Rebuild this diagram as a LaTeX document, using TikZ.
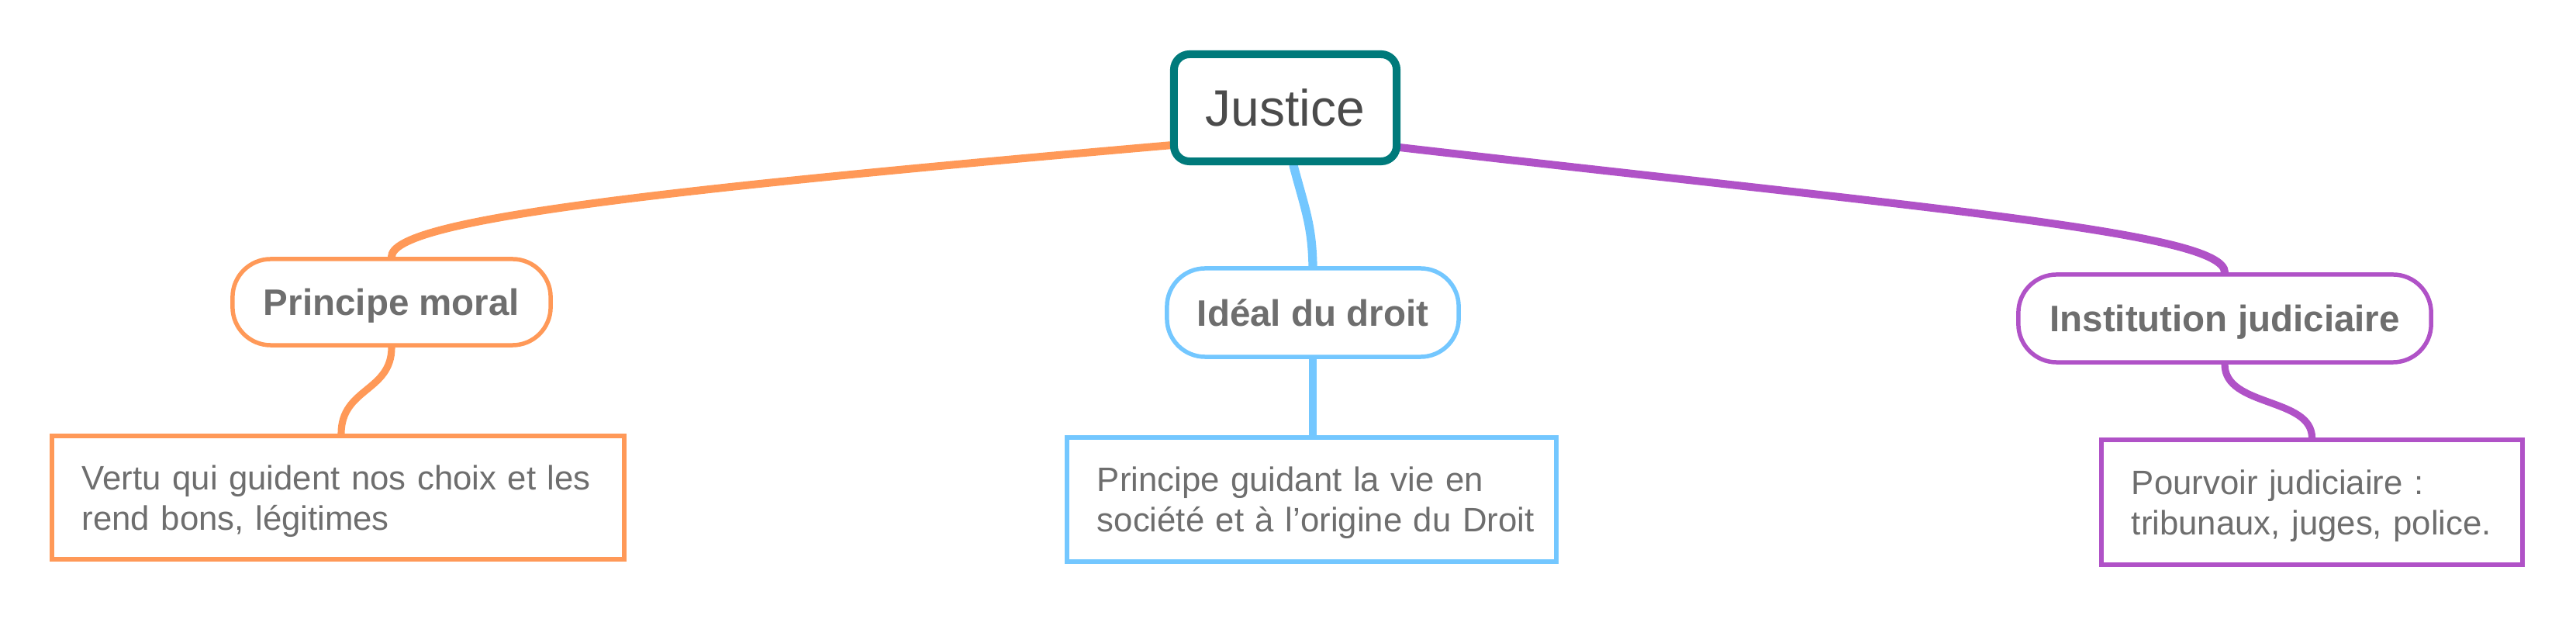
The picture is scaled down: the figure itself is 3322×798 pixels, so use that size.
\documentclass[tikz,border=0pt]{standalone}
\usepackage{fontspec}
\setmainfont{Liberation Sans}
\usetikzlibrary{backgrounds}
\definecolor{tealJ}{RGB}{0,122,123}
\definecolor{orangeB}{RGB}{255,153,88}
\definecolor{blueB}{RGB}{115,199,255}
\definecolor{purpleB}{RGB}{176,82,199}
\definecolor{gtext}{RGB}{110,110,110}
\definecolor{jtext}{RGB}{75,75,75}
\begin{document}
\begin{tikzpicture}[x=0.01cm,y=-0.01cm,
  upconn/.style={line width=2.85pt, line cap=round},
  lowconn/.style={line width=2.6pt, line cap=round},
  topic/.style={draw=tealJ, line width=2.85pt, rounded corners=5.7pt, fill=white,
    minimum width=2.87cm, minimum height=1.38cm, inner sep=0pt, text=jtext,
    font=\fontsize{18.78pt}{22pt}\selectfont, text height=0.47cm, text depth=0pt},
  pill/.style={line width=1.56pt, rounded corners=14pt, fill=white, inner sep=0pt,
    text=gtext, font=\fontsize{13.51pt}{16pt}\selectfont\bfseries,
    text height=0.34cm, text depth=0pt},
  desc/.style={line width=1.56pt, fill=white, inner xsep=0.39cm, inner ysep=0pt,
    align=left, text=gtext, font=\fontsize{12.43pt}{14.8pt}\selectfont,
    text height=0.313cm, text depth=0.52cm}
]
\useasboundingbox (0,0) rectangle (3322,798);

\node[topic] (J) at (1657.5,139) {Justice};

\node[pill, draw=orangeB, minimum width=4.10cm, minimum height=1.11cm] (PM) at (505,389.5) {Principe moral};
\node[pill, draw=blueB, minimum width=3.76cm, minimum height=1.14cm] (ID) at (1693,403) {Idéal du droit};
\node[pill, draw=purpleB, minimum width=5.32cm, minimum height=1.13cm] (IJ) at (2869,410.5) {Institution judiciaire};

\node[desc, draw=orangeB, text width=6.60cm, minimum width=7.38cm, minimum height=1.59cm] (V) at (436,641.5)
  {\mbox{Vertu qui guident nos choix et les}\\\mbox{rend bons, légitimes}};
\node[desc, draw=blueB, text width=5.53cm, minimum width=6.31cm, minimum height=1.60cm] (PG) at (1691.5,644)
  {\mbox{Principe guidant la vie en}\\\mbox{société et à l’origine du Droit}};
\node[desc, draw=purpleB, text width=4.65cm, minimum width=5.43cm, minimum height=1.61cm] (PJ) at (2981.5,647.5)
  {\mbox{Pourvoir judiciaire :}\\\mbox{tribunaux, juges, police.}};

\begin{scope}[on background layer]
  \draw[upconn, orangeB] (J.198) .. controls (813,248) and (505,285) .. (PM.north);
  \draw[upconn, blueB, line width=3.2pt] (J.278) .. controls (1683,270) and (1692,290) .. (ID.north);
  \draw[upconn, purpleB] (J.341) .. controls (2500,270) and (2869,300) .. (IJ.north);
  \draw[lowconn, orangeB] (PM.south) .. controls (505,505) and (440,500) .. (V.north -| 440,0);
  \draw[lowconn, blueB] (ID.south) -- (ID.south |- PG.north);
  \draw[lowconn, purpleB] (IJ.south) .. controls (2869,525) and (2981,512) .. (PJ.north);
\end{scope}
\end{tikzpicture}
\end{document}
